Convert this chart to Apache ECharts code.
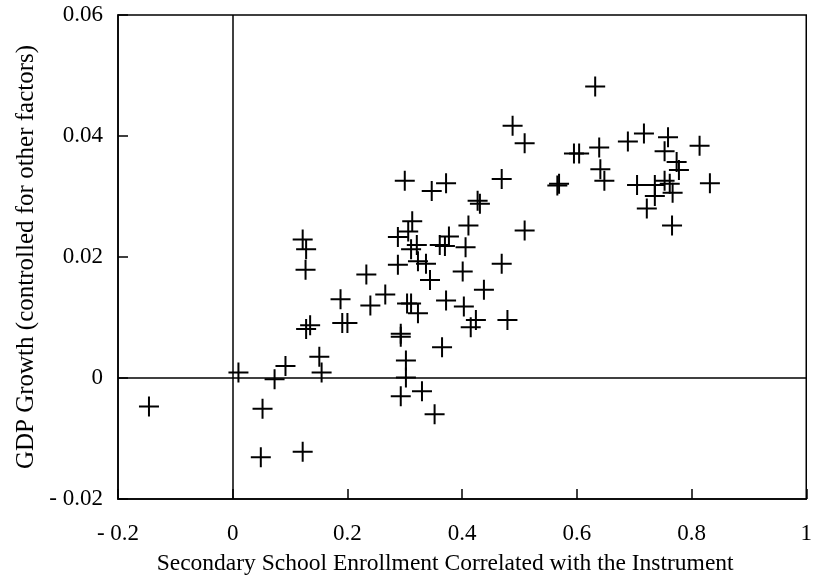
<!DOCTYPE html>
<html>
<head>
<meta charset="utf-8">
<script src="https://cdn.jsdelivr.net/npm/echarts@6/dist/echarts.min.js"></script>
<style>
html,body{margin:0;padding:0;background:#fff;}
#chart{width:815px;height:581px;}
</style>
</head>
<body>
<div id="chart"></div>
<script>
// Secondary school enrollment (instrumented) vs GDP growth
const xValues = [
  0.632, 0.488, 0.509, 0.595, 0.604, 0.639, 0.689, 0.717, 0.759, 0.814,
  0.753, 0.774, 0.778, 0.641, 0.648, 0.569, 0.566, 0.705, 0.736, 0.736,
  0.722, 0.753, 0.762, 0.767, 0.832, 0.766, 0.469, 0.300, 0.347, 0.372,
  0.427, 0.431, 0.313, 0.306, 0.288, 0.411, 0.509, 0.377, 0.321, 0.311,
  0.361, 0.370, 0.406, 0.288, 0.323, 0.337, 0.401, 0.469, 0.344, 0.266,
  0.438, 0.372, 0.304, 0.311, 0.323, 0.403, 0.424, 0.415, 0.479, 0.293,
  0.293, 0.365, 0.302, 0.302, 0.330, 0.293, 0.352,
  0.122, 0.128, 0.127, 0.233, 0.188, 0.240, 0.135, 0.128, 0.191, 0.200,
  0.151, 0.092, 0.155, 0.073, 0.010, -0.146, 0.052, 0.049, 0.122
];
const yValues = [
  0.0482, 0.0417, 0.0388, 0.0371, 0.0371, 0.0381, 0.0391, 0.0404, 0.0398, 0.0384,
  0.0375, 0.0357, 0.0344, 0.0345, 0.0326, 0.0321, 0.0318, 0.0319, 0.0319, 0.0301,
  0.0280, 0.0326, 0.0321, 0.0306, 0.0322, 0.0252, 0.0329, 0.0326, 0.0309, 0.0322,
  0.0293, 0.0288, 0.0259, 0.0242, 0.0233, 0.0252, 0.0244, 0.0234, 0.0220, 0.0213,
  0.0220, 0.0218, 0.0216, 0.0187, 0.0193, 0.0189, 0.0176, 0.0189, 0.0162, 0.0138,
  0.0146, 0.0128, 0.0123, 0.0123, 0.0107, 0.0118, 0.0096, 0.0084, 0.0096, 0.0073,
  0.0068, 0.0051, 0.0029, 0.0001, -0.0022, -0.0030, -0.0060,
  0.0229, 0.0213, 0.0179, 0.0171, 0.0130, 0.0120, 0.0087, 0.0081, 0.0091, 0.0091,
  0.0035, 0.0020, 0.0009, -0.0002, 0.0009, -0.0047, -0.0051, -0.0131, -0.0122
];
const xTicks = [-0.2, 0, 0.2, 0.4, 0.6, 0.8, 1];
const xTickLabels = ['- 0.2', '0', '0.2', '0.4', '0.6', '0.8', '1'];
const yTicks = [-0.02, 0, 0.02, 0.04, 0.06];
const yTickLabels = ['- 0.02', '0', '0.02', '0.04', '0.06'];
const xTitle = 'Secondary School Enrollment Correlated with the Instrument';
const yTitle = 'GDP Growth (controlled for other factors)';

function lookup(ticks, labels, v) {
  let best = 0;
  for (let i = 0; i < ticks.length; i++) {
    if (Math.abs(ticks[i] - v) < Math.abs(ticks[best] - v)) best = i;
  }
  return labels[best];
}

const points = xValues.map((x, i) => [x, yValues[i]]);
const font = 'Liberation Serif';
const plusPath = 'path://M9,0H11V9H20V11H11V20H9V11H0V9H9Z';

const chart = echarts.init(document.getElementById('chart'), null, {renderer: 'canvas'});
chart.setOption({
  animation: false,
  backgroundColor: '#fff',
  grid: {left: 118, right: 3, top: 15, bottom: 76, show: true, borderColor: '#000', borderWidth: 1.5, backgroundColor: 'transparent'},
  xAxis: {
    type: 'value', min: xTicks[0], max: xTicks[xTicks.length - 1], interval: 0.2,
    name: xTitle, nameLocation: 'middle', nameGap: 53,
    nameTextStyle: {fontFamily: font, fontSize: 23.5, color: '#000', padding: [0, 34, 0, 0]},
    axisLine: {onZero: false, lineStyle: {color: '#000', width: 1.5}},
    axisTick: {inside: true, length: 10, lineStyle: {color: '#000', width: 1.5}},
    axisLabel: {margin: 23, fontFamily: font, fontSize: 23, color: '#000',
      formatter: v => lookup(xTicks, xTickLabels, v)},
    splitLine: {show: false}
  },
  yAxis: {
    type: 'value', min: yTicks[0], max: yTicks[yTicks.length - 1], interval: 0.02,
    name: yTitle, nameLocation: 'middle', nameGap: 63,
    nameTextStyle: {fontFamily: font, fontSize: 25, color: '#000'},
    axisLine: {onZero: false, lineStyle: {color: '#000', width: 1.5}},
    axisTick: {inside: true, length: 10, lineStyle: {color: '#000', width: 1.5}},
    axisLabel: {margin: 15, fontFamily: font, fontSize: 23, color: '#000',
      formatter: v => lookup(yTicks, yTickLabels, v)},
    splitLine: {show: false}
  },
  series: [{
    type: 'scatter',
    data: points,
    symbol: plusPath,
    symbolSize: 20,
    itemStyle: {color: '#000', opacity: 1},
    markLine: {
      silent: true,
      symbol: ['none', 'none'],
      label: {show: false},
      lineStyle: {color: '#000', width: 1.5, type: 'solid'},
      data: [{xAxis: 0}, {yAxis: 0}]
    }
  }]
});
</script>
</body>
</html>
